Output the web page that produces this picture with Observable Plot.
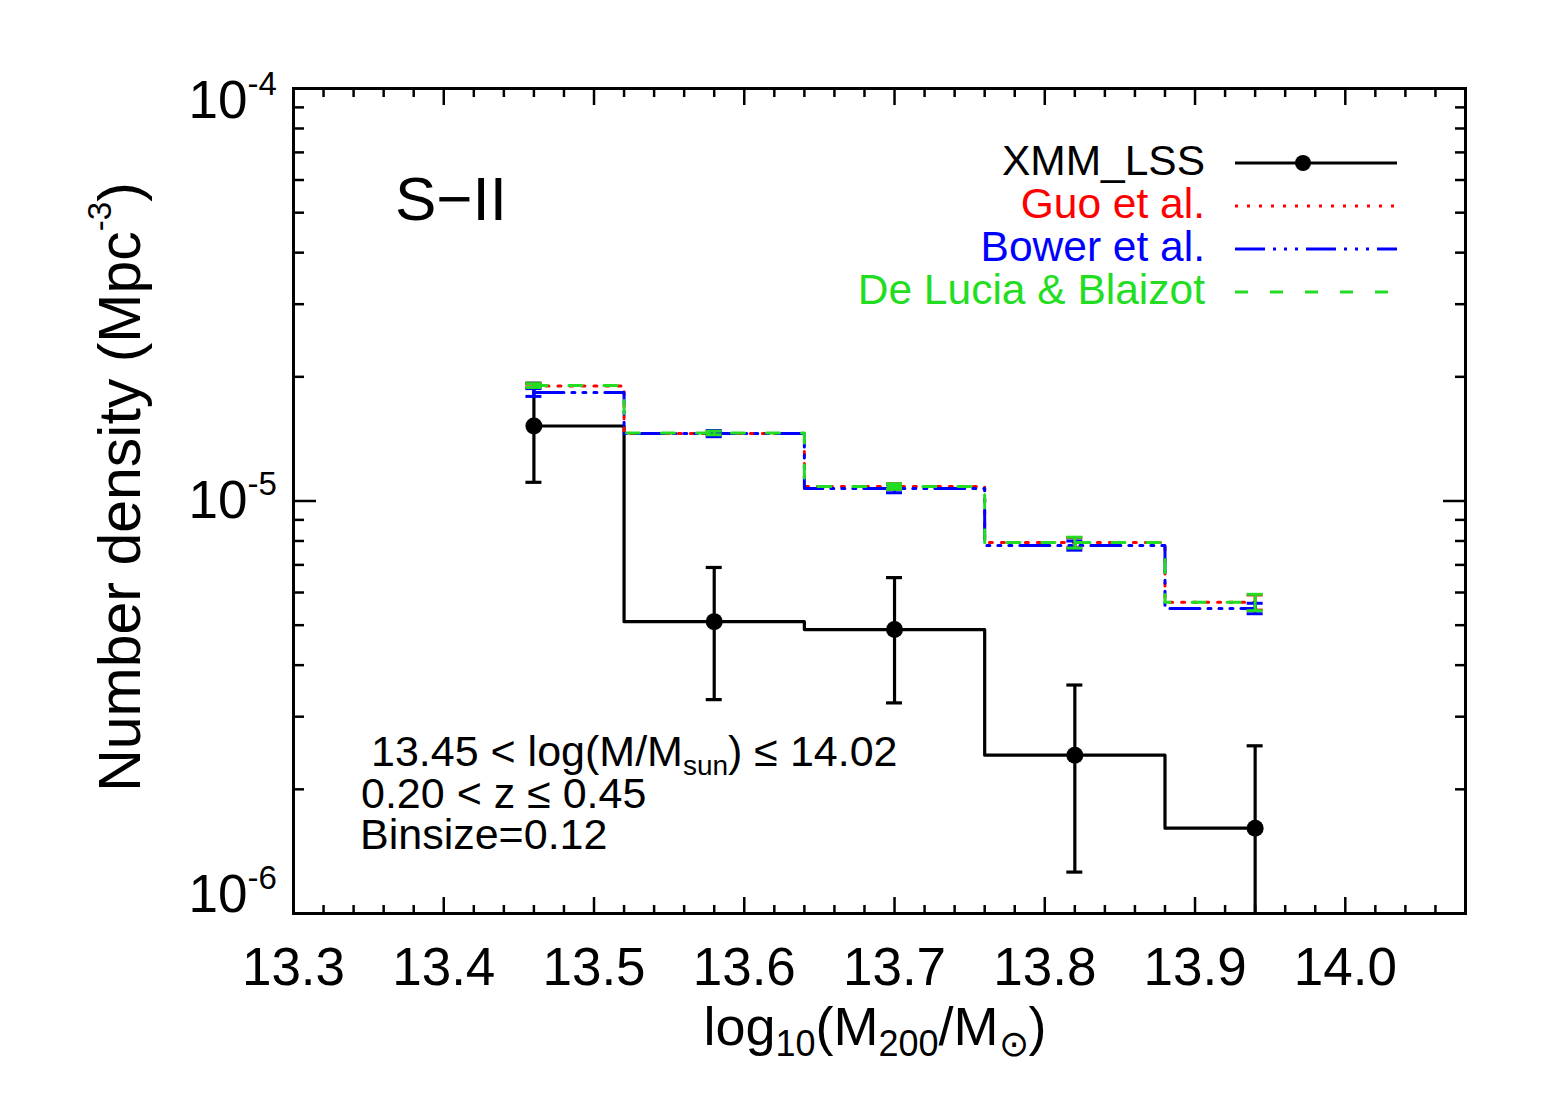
<!DOCTYPE html>
<html>
<head>
<meta charset="utf-8">
<script src="https://cdn.jsdelivr.net/npm/d3@7"></script>
<script src="https://cdn.jsdelivr.net/npm/@observablehq/plot@0.6"></script>
<style>
  html, body { margin: 0; padding: 0; background: #ffffff; }
  #chart svg { display: block; }
</style>
</head>
<body>
<div id="chart"></div>
<script>
// ---- data ----
const massBins = [13.46, 13.58, 13.70, 13.82, 13.94];

const xmmDensity = [1.52e-5, 5.10e-6, 4.88e-6, 2.42e-6, 1.61e-6];
const xmmError   = [4.1e-6, 1.80e-6, 1.64e-6, 1.16e-6, 0.94e-6];

const guoDensity = [1.90e-5, 1.457e-5, 1.084e-5, 7.93e-6, 5.68e-6];
const guoError   = [0.2e-6, 0.15e-6, 0.17e-6, 0.22e-6, 0.24e-6];

const bowerDensity = [1.833e-5, 1.457e-5, 1.072e-5, 7.80e-6, 5.49e-6];
const bowerError   = [0.40e-6, 0.25e-6, 0.25e-6, 0.20e-6, 0.16e-6];

const deluciaDensity = [1.905e-5, 1.462e-5, 1.084e-5, 7.93e-6, 5.68e-6];
const deluciaError   = [0.2e-6, 0.15e-6, 0.17e-6, 0.24e-6, 0.26e-6];

const xMajorTicks = [13.3, 13.4, 13.5, 13.6, 13.7, 13.8, 13.9, 14.0];
const xTickLabels = ["13.3", "13.4", "13.5", "13.6", "13.7", "13.8", "13.9", "14.0"];
const yMajorTicks = [1e-6, 1e-5, 1e-4];
const yTickExponents = ["-6", "-5", "-4"];

const legendLabels = ["XMM_LSS", "Guo et al.", "Bower et al.", "De Lucia & Blaizot"];

// ---- derived tables ----
const toRows = (vals, errs) => massBins.map((x, i) => ({x, y: vals[i], e: errs[i]}));
const xmm = toRows(xmmDensity, xmmError);
const guo = toRows(guoDensity, guoError);
const bower = toRows(bowerDensity, bowerError);
const delucia = toRows(deluciaDensity, deluciaError);

const xMinorTicks = d3.range(0, 40).map(i => +(13.3 + i * 0.02).toFixed(2))
  .filter(v => v <= 14.08 && !xMajorTicks.some(m => Math.abs(m - v) < 1e-6));
const yMinorTicks = [];
for (const dec of [1e-6, 1e-5]) for (let k = 2; k <= 9; k++) yMinorTicks.push(k * dec);

const RED = "#ff0000", BLUE = "#0000ff", GREEN = "#22dd22";
const styles = [
  {rows: guo, color: RED, dash: "3,9"},
  {rows: bower, color: BLUE, dash: "30,8,3,8,3,8,3,8"},
  {rows: delucia, color: GREEN, dash: "13,22"}
];

function seriesMarks(rows, color, dash, w) {
  return [
    Plot.line(rows, {x: "x", y: "y", curve: "step", stroke: color, strokeWidth: w, strokeDasharray: dash}),
    Plot.ruleX(rows, {x: "x", y1: d => d.y - d.e, y2: d => d.y + d.e, stroke: color, strokeWidth: w, clip: true}),
    Plot.ruleY(rows, {y: d => d.y + d.e, x1: "x", x2: "x", insetLeft: -8, insetRight: -8, stroke: color, strokeWidth: w, clip: true}),
    Plot.ruleY(rows, {y: d => d.y - d.e, x1: "x", x2: "x", insetLeft: -8, insetRight: -8, stroke: color, strokeWidth: w, clip: true})
  ];
}

const yDy = {"-6": -18, "-5": 0, "-4": 13};

const chart = Plot.plot({
  width: 1544,
  height: 1102,
  marginLeft: 293,
  marginRight: 79,
  marginTop: 88,
  marginBottom: 189,
  style: {fontFamily: "'Liberation Sans', Arial, Helvetica, sans-serif", background: "#ffffff", color: "#000"},
  x: {domain: [13.3, 14.08], axis: null},
  y: {type: "log", domain: [1e-6, 1e-4], axis: null},
  marks: [
    // black observed histogram
    Plot.line(xmm, {x: "x", y: "y", curve: "step", stroke: "black", strokeWidth: 3.2}),
    Plot.ruleX(xmm, {x: "x", y1: d => d.y - d.e, y2: d => d.y + d.e, stroke: "black", strokeWidth: 3.2, clip: true}),
    Plot.ruleY(xmm, {y: d => d.y + d.e, x1: "x", x2: "x", insetLeft: -8, insetRight: -8, stroke: "black", strokeWidth: 3.2, clip: true}),
    Plot.ruleY(xmm, {y: d => d.y - d.e, x1: "x", x2: "x", insetLeft: -8, insetRight: -8, stroke: "black", strokeWidth: 3.2, clip: true}),
    Plot.dot(xmm, {x: "x", y: "y", r: 8.5, fill: "black"}),
    // model histograms
    ...styles.flatMap(s => seriesMarks(s.rows, s.color, s.dash, 3)),
    // frame and ticks
    Plot.frame({stroke: "black", strokeWidth: 3}),
    Plot.axisX(xMajorTicks, {anchor: "bottom", tickSize: -16, strokeWidth: 2.5, fill: "none", label: null}),
    Plot.axisX(xMinorTicks, {anchor: "bottom", tickSize: -8, strokeWidth: 2.5, fill: "none", label: null}),
    Plot.axisX(xMajorTicks, {anchor: "top", tickSize: -16, strokeWidth: 2.5, fill: "none", label: null}),
    Plot.axisX(xMinorTicks, {anchor: "top", tickSize: -8, strokeWidth: 2.5, fill: "none", label: null}),
    Plot.axisY(yMajorTicks, {anchor: "left", tickSize: -23, strokeWidth: 2.5, fill: "none", label: null}),
    Plot.axisY(yMinorTicks, {anchor: "left", tickSize: -11, strokeWidth: 2.5, fill: "none", label: null}),
    Plot.axisY(yMajorTicks, {anchor: "right", tickSize: -23, strokeWidth: 2.5, fill: "none", label: null}),
    Plot.axisY(yMinorTicks, {anchor: "right", tickSize: -11, strokeWidth: 2.5, fill: "none", label: null}),
    // tick labels
    Plot.text(xMajorTicks, {x: d => d, text: (d, i) => xTickLabels[i], frameAnchor: "bottom", lineAnchor: "top", dy: 34, fontSize: 53, fill: "black"}),
    ...yMajorTicks.flatMap((v, i) => [
      Plot.text([v], {y: d => d, text: () => "10", frameAnchor: "left", textAnchor: "end", lineAnchor: "middle", dx: -46, dy: yDy[yTickExponents[i]], fontSize: 53, fill: "black"}),
      Plot.text([v], {y: d => d, text: () => yTickExponents[i], frameAnchor: "left", textAnchor: "start", lineAnchor: "middle", dx: -46, dy: yDy[yTickExponents[i]] - 17, fontSize: 33, fill: "black"})
    ])
  ]
});

document.getElementById("chart").appendChild(chart);

// ---- rich text (sub/superscripts), legend, annotations ----
const svg = d3.select(chart);
const FONT = "'Liberation Sans', Arial, Helvetica, sans-serif";

function richText(parent, parts, attrs) {
  const t = parent.append("text").attr("font-family", FONT).attr("text-anchor", "start").attr("fill", attrs.fill || "black");
  for (const [k, v] of Object.entries(attrs)) if (k !== "fill") t.attr(k, v);
  let shift = 0;
  for (const p of parts) {
    const target = p.shift || 0;
    t.append("tspan").attr("dy", target - shift).attr("font-size", p.size).text(p.t);
    shift = target;
  }
  return t;
}
function plainText(parent, str, x, y, size, anchor, fill) {
  return parent.append("text").attr("font-family", FONT).attr("font-size", size)
    .attr("text-anchor", anchor || "start").attr("fill", fill || "black")
    .attr("x", x).attr("y", y).text(str);
}

// x axis title
richText(svg, [
  {t: "log", size: 54},
  {t: "10", size: 36, shift: 11},
  {t: "(M", size: 54},
  {t: "200", size: 36, shift: 11},
  {t: "/M", size: 54},
  {t: "\u2299", size: 36, shift: 11},
  {t: ")", size: 54}
], {x: 875, y: 1045, "text-anchor": "middle"});

// y axis title
richText(svg, [
  {t: "Number density (Mpc", size: 59},
  {t: "-3", size: 33, shift: -29},
  {t: ")", size: 59}
], {transform: "translate(140,487) rotate(-90)", "text-anchor": "middle"});

// panel label
plainText(svg, "S\u2212II", 395, 220, 62);

// annotations
richText(svg, [
  {t: "13.45 < log(M/M", size: 43},
  {t: "sun", size: 28, shift: 9},
  {t: ") \u2264 14.02", size: 43}
], {x: 371, y: 766});
plainText(svg, "0.20 < z \u2264 0.45", 361, 808, 43);
plainText(svg, "Binsize=0.12", 360, 849, 43);

// legend
const legendColors = ["black", RED, BLUE, GREEN];
const legendDash = [null, "3,9", "30,8,3,8,3,8,3,8", "13,22"];
const legendBase = [175, 218, 261, 304];
const lg = svg.append("g");
legendLabels.forEach((lab, i) => {
  plainText(lg, lab, 1205, legendBase[i], 42.5, "end", legendColors[i]);
  const ly = legendBase[i] - 12;
  const ln = lg.append("line").attr("x1", 1235).attr("x2", 1397).attr("y1", ly).attr("y2", ly)
    .attr("stroke", legendColors[i]).attr("stroke-width", 3);
  if (legendDash[i]) ln.attr("stroke-dasharray", legendDash[i]);
  if (i === 0) lg.append("circle").attr("cx", 1303).attr("cy", ly).attr("r", 8).attr("fill", "black");
});
</script>
</body>
</html>
